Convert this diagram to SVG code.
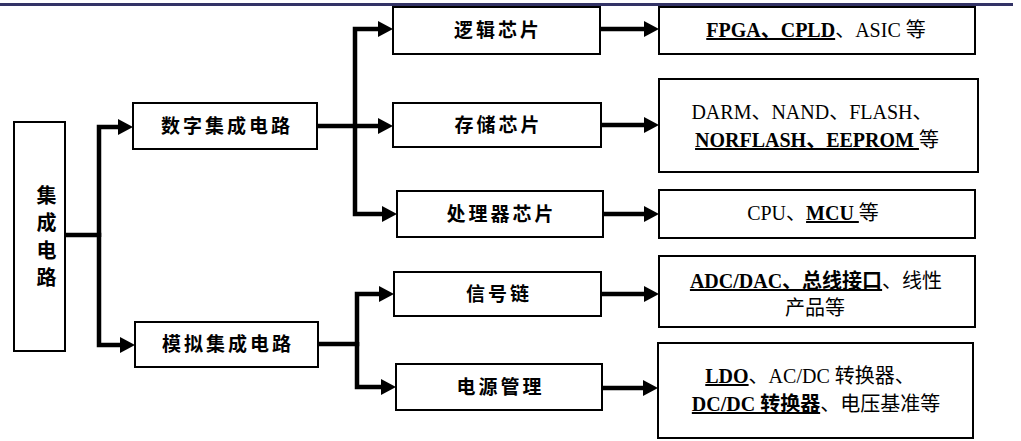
<svg xmlns="http://www.w3.org/2000/svg" width="1021" height="441" viewBox="0 0 1021 441">
<style>
.box{fill:#fff;stroke:#000;stroke-width:2}
.lbl{font-family:'Liberation Serif','Noto Sans CJK SC',serif;font-size:19px;font-weight:bold;letter-spacing:3px;fill:#000;text-anchor:middle}
.vl{font-family:'Liberation Serif','Noto Sans CJK SC',serif;font-size:20px;font-weight:bold;fill:#000;text-anchor:middle}
.rt{font-family:'Liberation Serif','Noto Sans CJK SC',serif;font-size:20px;fill:#000;text-anchor:middle}
.u{font-weight:bold;text-decoration:underline}
.con{fill:none;stroke:#000;stroke-width:4.5;stroke-linejoin:miter}
</style>
<defs>
<marker id="ah" viewBox="0 0 15 16" refX="3" refY="8" markerWidth="15" markerHeight="16" markerUnits="userSpaceOnUse" orient="auto">
<path d="M0,0 L15,8 L0,16 z" fill="#000"/>
</marker>
</defs>
<rect x="0" y="3" width="1013" height="3" fill="#333366"/>
<g id="connectors">
<path class="con" d="M65,235 H99 V345 H123" marker-end="url(#ah)"/>
<path class="con" d="M99,237 V127 H121" marker-end="url(#ah)"/>
<path class="con" d="M317,126 H355 V29 H381" marker-end="url(#ah)"/>
<path class="con" d="M353,126 H381" marker-end="url(#ah)"/>
<path class="con" d="M355,124 V214 H385" marker-end="url(#ah)"/>
<path class="con" d="M318,344 H357 V294 H382" marker-end="url(#ah)"/>
<path class="con" d="M357,342 V387 H384" marker-end="url(#ah)"/>
<path class="con" d="M600,29 H647" marker-end="url(#ah)"/>
<path class="con" d="M601,125 H647" marker-end="url(#ah)"/>
<path class="con" d="M603,214 H647" marker-end="url(#ah)"/>
<path class="con" d="M601,294 H647" marker-end="url(#ah)"/>
<path class="con" d="M602,388 H646" marker-end="url(#ah)"/>
</g>
<g id="n-ic">
<rect class="box" x="14" y="122" width="51" height="229"/>
<text class="vl"><tspan x="46.5" y="202.5">集</tspan><tspan x="46.5" y="230">成</tspan><tspan x="46.5" y="257.5">电</tspan><tspan x="46.5" y="284.5">路</tspan></text>
</g>
<g id="n-digital">
<rect class="box" x="133" y="103" width="184" height="46"/>
<text class="lbl" x="227" y="133">数字集成电路</text>
</g>
<g id="n-analog">
<rect class="box" x="135" y="322" width="183" height="45"/>
<text class="lbl" x="228" y="351">模拟集成电路</text>
</g>
<g id="n-logic">
<rect class="box" x="393" y="7" width="207" height="47"/>
<text class="lbl" x="498" y="37">逻辑芯片</text>
</g>
<g id="n-memory">
<rect class="box" x="393" y="103" width="208" height="44"/>
<text class="lbl" x="498.5" y="132">存储芯片</text>
</g>
<g id="n-proc">
<rect class="box" x="397" y="191" width="206" height="46"/>
<text class="lbl" x="501.5" y="221">处理器芯片</text>
</g>
<g id="n-signal">
<rect class="box" x="394" y="272" width="207" height="44"/>
<text class="lbl" x="499" y="301">信号链</text>
</g>
<g id="n-power">
<rect class="box" x="396" y="364" width="206" height="46"/>
<text class="lbl" x="500.5" y="394">电源管理</text>
</g>
<g id="n-logic-ex">
<rect class="box" x="659" y="7" width="316" height="47"/>
<text class="rt" x="816" y="37"><tspan class="u">FPGA、CPLD</tspan>、ASIC 等</text>
</g>
<g id="n-memory-ex">
<rect class="box" x="659" y="79" width="319" height="93"/>
<text class="rt" x="812" y="119">DARM、NAND、FLASH、</text>
<text class="rt" x="817" y="147"><tspan class="u">NORFLASH、EEPROM </tspan>等</text>
</g>
<g id="n-proc-ex">
<rect class="box" x="659" y="190" width="316" height="48"/>
<text class="rt" x="813" y="220">CPU、<tspan class="u">MCU </tspan>等</text>
</g>
<g id="n-signal-ex">
<rect class="box" x="659" y="256" width="316" height="71"/>
<text class="rt" x="816" y="288"><tspan class="u">ADC/DAC、总线接口</tspan>、线性</text>
<text class="rt" x="815" y="315">产品等</text>
</g>
<g id="n-power-ex">
<rect class="box" x="658" y="343" width="315" height="95"/>
<text class="rt" x="810" y="383"><tspan class="u">LDO</tspan>、AC/DC 转换器、</text>
<text class="rt" x="816" y="411"><tspan class="u">DC/DC 转换器</tspan>、电压基准等</text>
</g>
</svg>
